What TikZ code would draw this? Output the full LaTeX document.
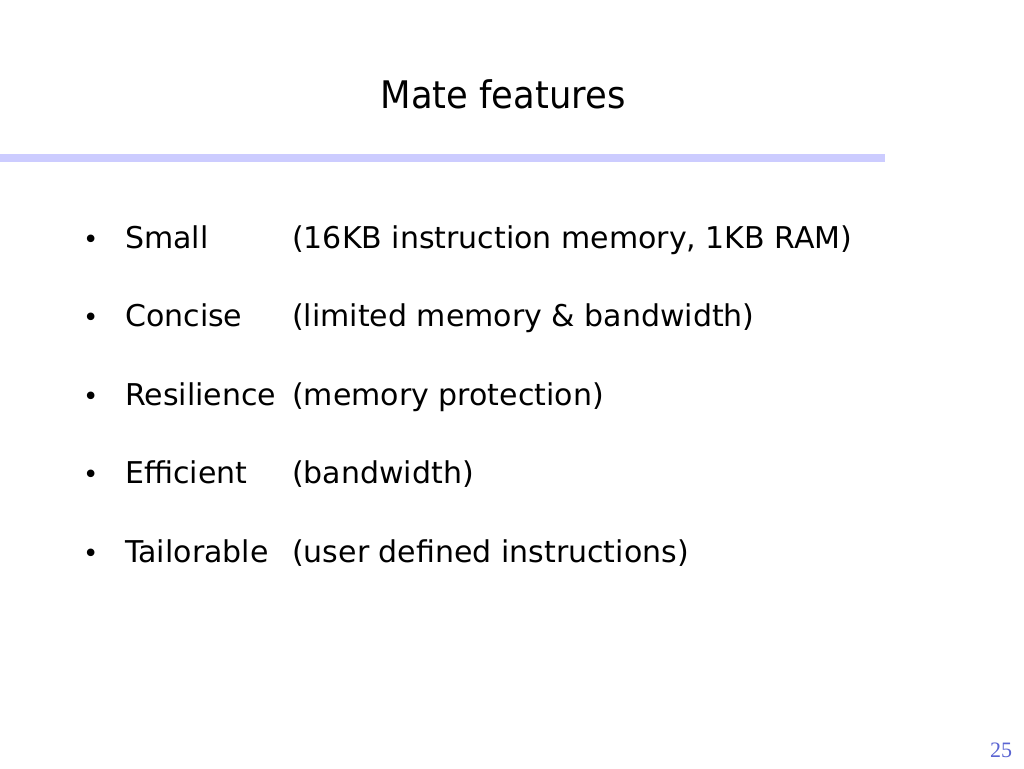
\documentclass[tikz,border=0pt]{standalone}
\usepackage{fontspec}
\setmainfont{DejaVu Sans}
\newfontfamily\seriffont{Liberation Serif}
\definecolor{barcol}{RGB}{204,204,255}
\definecolor{numcol}{RGB}{90,100,210}
\begin{document}
\begin{tikzpicture}[x=1pt,y=-1pt,
  bodytext/.style={anchor=base west,inner sep=0pt,font=\fontsize{30}{36}\selectfont},
  bullettext/.style={anchor=base west,inner sep=0pt,font=\fontsize{26}{30}\selectfont}]
\useasboundingbox (0,0) rectangle (1024,768);
\fill[white] (0,0) rectangle (1024,768);
\node[anchor=base,inner sep=0pt,font=\fontsize{38}{44}\selectfont,xscale=0.93,transform shape] (title) at (503,108) {Mate features};
\fill[barcol] (0,154) rectangle (885,162);
\foreach \y/\a/\b [count=\i] in {248/Small/{(16KB instruction memory, 1KB RAM)},
  326/Concise/{(limited memory \& bandwidth)},
  405/Resilience/{(memory protection)},
  483/Efficient/{(bandwidth)},
  562/Tailorable/{(user defined instructions)}}{
  \node[bullettext] (b\i) at (83,\y) {•};
  \node[bodytext] (k\i) at (125,\y) {\a};
  \node[bodytext] (d\i) at (292,\y) {\b};
}
\node[anchor=base,inner sep=0pt,font=\seriffont\fontsize{22}{24}\selectfont,text=numcol] (pg) at (1001,757) {25};
\end{tikzpicture}
\end{document}
